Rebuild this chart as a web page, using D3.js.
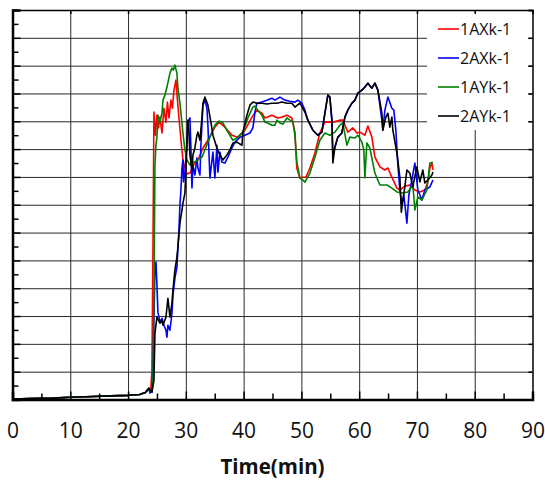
<!DOCTYPE html>
<html><head><meta charset="utf-8">
<script src="https://cdn.jsdelivr.net/npm/d3@7"></script>
<style>
html,body{margin:0;padding:0;background:#fff;}
svg{display:block;}
text{font-family:"Open Sans",sans-serif;}
</style></head>
<body>
<svg id="chart" width="545" height="480"></svg>
<script>
// ---- data (time in min, value) ----
const seriesNames = ["1AXk-1","2AXk-1","1AYk-1","2AYk-1"];
const seriesColors = ["#ff0000","#0000ff","#008000","#000000"];
const xTicks = [0,10,20,30,40,50,60,70,80,90];
const xTitle = "Time(min)";

const baseline = [[0,2],[3,3],[7,5],[10,8],[14,11],[17,13],[20,15],[22,18],[23,25],[23.6,40]];

const red1AXk = [[23.96,41],[24.13,105],[24.31,537],[24.48,1033],[24.74,950],[25.0,1022],[25.26,976],[25.52,1015],[25.87,958],[26.21,1047],[26.56,997],[26.82,1069],[27.08,1012],[27.42,1076],[27.68,1047],[27.94,1112],[28.29,1148],[28.55,1076],[28.81,1012],[29.16,932],[29.5,861],[29.84,832],[30.19,811],[30.71,814],[31.23,839],[32.09,861],[32.96,904],[33.82,932],[35.03,979],[35.73,997],[36.76,979],[37.98,950],[39.01,943],[40.23,968],[41.44,1015],[42.3,1040],[43.17,1029],[43.69,1012],[44.9,1022],[45.94,1012],[46.63,1015],[47.5,1022],[48.36,1012],[48.88,961],[49.2,832],[49.74,796],[50.26,799],[50.78,799],[51.47,832],[52.34,886],[53.2,958],[54.07,997],[55.45,997],[56.66,1004],[57.18,1004],[58.04,961],[58.91,976],[59.6,958],[60.12,961],[60.99,950],[61.51,983],[62.2,943],[62.72,871],[63.59,836],[64.45,825],[64.97,832],[65.66,799],[66.53,760],[67.04,753],[67.91,767],[68.77,771],[69.64,753],[70.5,746],[71.37,753],[71.89,782],[72.24,832],[72.59,850],[72.77,825]];

const blue2AXk = [[23.79,23],[24.13,33],[24.31,105],[24.48,285],[24.65,465],[24.83,494],[25.0,411],[25.17,314],[25.52,278],[25.87,292],[26.21,267],[26.56,249],[26.73,224],[26.9,267],[27.25,249],[27.6,310],[27.77,375],[28.11,436],[28.46,476],[28.63,544],[28.81,609],[28.98,699],[29.15,753],[29.33,832],[29.5,861],[29.6,782],[29.84,817],[30.19,904],[30.36,997],[30.71,1012],[30.88,904],[31.06,760],[31.23,843],[31.57,807],[31.92,868],[32.09,832],[32.44,807],[32.61,914],[32.96,1058],[33.3,1076],[33.65,1047],[33.82,986],[34.17,796],[34.69,889],[35.03,796],[35.38,914],[35.55,817],[35.9,889],[36.25,853],[36.76,850],[37.28,871],[37.98,904],[38.5,925],[39.36,943],[40.23,950],[41.09,958],[41.61,976],[41.96,1033],[42.3,1065],[43.17,1069],[44.03,1076],[44.9,1083],[45.42,1076],[46.28,1087],[47.15,1076],[48.01,1072],[48.88,1069],[49.39,1076],[50.09,1065],[50.61,1040],[51.12,1004],[51.99,968],[52.85,950],[53.55,961],[54.07,1029],[54.58,1094],[54.93,1087],[55.28,1004],[55.45,880],[55.8,907],[56.31,943],[57.0,958],[57.53,1015],[58.04,1040],[58.74,1065],[59.26,1076],[59.78,1101],[60.47,1112],[60.99,1123],[61.51,1137],[62.2,1119],[62.72,1137],[63.24,1112],[63.93,1004],[64.1,968],[64.45,1040],[64.97,1087],[65.66,1047],[66.0,1040],[66.35,968],[66.7,843],[67.04,753],[67.39,699],[67.73,735],[68.26,634],[68.6,735],[69.12,789],[69.64,850],[70.16,753],[70.85,717],[71.37,753],[72.24,764],[72.77,789]];

const green1AYk = [[24.13,26],[24.31,69],[24.48,357],[24.65,843],[24.83,914],[25.0,943],[25.17,1022],[25.52,997],[25.87,1029],[26.04,1076],[26.38,1094],[26.73,1123],[27.25,1173],[27.6,1191],[27.85,1184],[28.11,1202],[28.46,1173],[28.63,1119],[28.98,1065],[29.5,958],[29.84,897],[30.19,861],[30.71,843],[31.23,850],[32.09,861],[32.79,871],[33.82,925],[35.03,986],[35.73,1001],[36.42,994],[37.28,961],[38.15,932],[39.01,943],[39.88,961],[40.74,1012],[41.61,1051],[41.96,1055],[42.47,1040],[43.17,1022],[43.69,997],[44.2,994],[44.9,986],[45.42,986],[45.76,1004],[46.28,994],[46.8,990],[47.49,1012],[48.01,1004],[48.53,997],[48.88,950],[49.22,853],[49.74,796],[50.26,789],[50.61,781],[51.47,814],[52.34,871],[53.2,932],[54.07,958],[54.93,950],[55.8,961],[56.66,986],[57.18,994],[57.87,914],[58.39,943],[59.26,940],[59.78,950],[60.47,925],[60.81,897],[60.99,796],[61.16,861],[61.33,922],[61.85,904],[62.72,814],[63.59,771],[64.8,771],[65.66,760],[66.53,746],[67.56,742],[68.43,746],[69.29,771],[69.64,681],[70.16,728],[70.85,717],[71.71,753],[72.24,850],[72.77,853]];

const black2AYk = [[24.13,26],[24.48,69],[24.65,238],[25.0,296],[25.52,274],[25.87,285],[26.04,267],[26.56,296],[26.9,364],[27.25,296],[27.6,346],[27.77,393],[28.11,465],[28.46,512],[28.63,548],[28.98,634],[29.33,681],[29.5,706],[29.84,742],[30.02,825],[30.19,925],[30.36,1004],[30.54,961],[30.71,879],[31.06,825],[31.23,879],[31.57,904],[31.92,950],[32.09,961],[32.44,932],[32.79,1012],[32.96,1065],[33.3,1087],[33.82,1058],[34.34,997],[34.69,950],[35.38,904],[35.9,879],[36.42,861],[37.11,879],[37.63,897],[38.15,922],[38.84,925],[39.71,914],[39.88,961],[40.57,1022],[41.09,1058],[41.61,1069],[42.3,1065],[43.17,1065],[44.03,1062],[44.9,1065],[45.76,1065],[46.63,1069],[47.5,1065],[48.36,1065],[48.88,1051],[49.74,1065],[50.61,1033],[51.12,1004],[51.99,968],[52.85,950],[53.55,961],[54.07,1029],[54.58,1094],[54.93,1087],[55.28,1004],[55.45,850],[55.8,907],[56.31,943],[57.0,958],[57.53,1015],[58.04,1040],[58.74,1065],[59.26,1076],[59.78,1101],[60.47,1112],[60.99,1123],[61.51,1137],[62.2,1119],[62.72,1137],[63.24,1112],[63.93,1029],[64.1,968],[64.62,1015],[64.97,1029],[65.31,979],[65.66,1015],[65.83,968],[66.53,886],[67.04,799],[67.3,673],[67.56,717],[67.91,764],[68.26,825],[68.77,814],[69.29,764],[69.98,836],[70.5,782],[71.02,825],[71.37,778],[71.89,789],[72.59,807],[72.77,818]];

const seriesData = [red1AXk, blue2AXk, green1AYk, black2AYk];

// ---- layout ----
const svg = d3.select("#chart");
const L = 12.5, R = 532.5, T = 10, B = 399.5;
const x = d3.scaleLinear().domain([0, 90]).range([L, R]);
const y = d3.scaleLinear().domain([0, 1400]).range([B, T]);

// gridlines
svg.append("g").attr("transform", `translate(0,${B})`)
  .call(d3.axisBottom(x).tickValues(d3.range(10, 90, 10)).tickSize(-(B - T)).tickFormat(""))
  .call(g => g.select(".domain").remove())
  .call(g => g.selectAll("line").attr("stroke", "#2a2a2a").attr("stroke-width", 1));
svg.append("g").attr("transform", `translate(${L},0)`)
  .call(d3.axisLeft(y).tickValues(d3.range(100, 1400, 100)).tickSize(-(R - L)).tickFormat(""))
  .call(g => g.select(".domain").remove())
  .call(g => g.selectAll("line").attr("stroke", "#2a2a2a").attr("stroke-width", 1));

// legend background (covers gridlines)
svg.append("rect").attr("x", 427).attr("y", 12.5).attr("width", 101).attr("height", 117.5).attr("fill", "#fff");

// series
const line = d3.line().x(d => x(d[0])).y(d => y(d[1]));
seriesData.forEach((s, i) => {
  svg.append("path").datum(baseline.concat(s))
    .attr("fill", "none").attr("stroke", seriesColors[i])
    .attr("stroke-width", 1.6).attr("stroke-linejoin", "round")
    .attr("d", line);
});

// frame: top and right with inward ticks
svg.append("g").attr("transform", `translate(0,${T})`)
  .call(d3.axisTop(x).tickValues(xTicks).tickSize(-4).tickFormat(""))
  .call(g => g.selectAll("path,line").attr("stroke", "#000").attr("stroke-width", 1.5));
svg.append("g").attr("transform", `translate(${R},0)`)
  .call(d3.axisRight(y).tickValues(d3.range(0, 1401, 100)).tickSize(-4).tickFormat(""))
  .call(g => g.selectAll("path,line").attr("stroke", "#000").attr("stroke-width", 1.5));

// left axis: minor + major inward ticks
svg.append("g").attr("transform", `translate(${L},0)`)
  .call(d3.axisLeft(y).tickValues(d3.range(50, 1400, 100)).tickSize(-6).tickFormat(""))
  .call(g => g.select(".domain").remove())
  .call(g => g.selectAll("line").attr("stroke", "#000").attr("stroke-width", 1.5));
svg.append("g").attr("transform", `translate(${L},0)`)
  .call(d3.axisLeft(y).tickValues(d3.range(0, 1401, 100)).tickSize(-8).tickFormat(""))
  .call(g => g.selectAll(".domain").attr("stroke", "#000").attr("stroke-width", 2.5))
  .call(g => g.selectAll("line").attr("stroke", "#000").attr("stroke-width", 1.5));

// bottom axis: minor + major inward ticks with labels
svg.append("g").attr("transform", `translate(0,${B})`)
  .call(d3.axisBottom(x).tickValues(d3.range(5, 90, 10)).tickSize(-6).tickFormat(""))
  .call(g => g.select(".domain").remove())
  .call(g => g.selectAll("line").attr("stroke", "#000").attr("stroke-width", 1.5));
svg.append("g").attr("transform", `translate(0,${B})`)
  .call(d3.axisBottom(x).tickValues(xTicks).tickSize(-8).tickPadding(24).tickFormat(d3.format("d")))
  .call(g => g.selectAll(".domain").attr("stroke", "#000").attr("stroke-width", 2.5))
  .call(g => g.selectAll("line").attr("stroke", "#000").attr("stroke-width", 1.5))
  .call(g => g.selectAll("text").attr("font-family", "'Open Sans',sans-serif").attr("font-size", 21).attr("fill", "#111"));

// axis title
svg.append("text").attr("x", (L + R) / 2).attr("y", 474)
  .attr("text-anchor", "middle").attr("font-size", 20.5).attr("font-weight", "bold").attr("fill", "#111")
  .text(xTitle);

// legend
const lg = svg.append("g");
seriesNames.forEach((n, i) => {
  const yy = 29 + i * 29;
  lg.append("line").attr("x1", 438).attr("x2", 459).attr("y1", yy).attr("y2", yy)
    .attr("stroke", seriesColors[i]).attr("stroke-width", 1.6);
  lg.append("text").attr("x", 460).attr("y", yy + 6).attr("font-size", 16).attr("fill", "#111").text(n);
});
</script>
</body></html>
